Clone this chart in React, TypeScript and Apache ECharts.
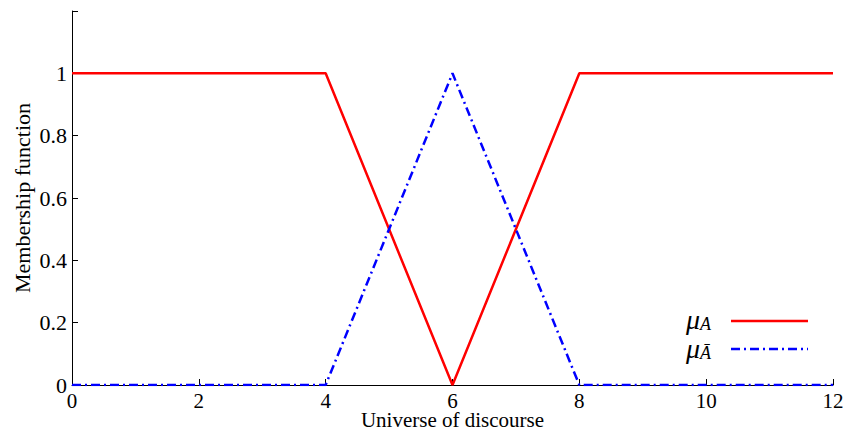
import React, { useEffect, useRef } from "react";
import * as echarts from "echarts";

// Universe of discourse sample points and the two membership functions
const xPoints = [0, 4, 6, 8, 12];
const muA = [1, 1, 0, 1, 1];
const muAComplement = [0, 0, 1, 0, 0];

const FONT = "'Liberation Serif', 'DejaVu Serif', serif";

export default function App() {
  const ref = useRef<HTMLDivElement>(null);

  useEffect(() => {
    if (!ref.current) return;
    const chart = echarts.init(ref.current, undefined, { renderer: "svg" });
    const pair = (ys: number[]) => xPoints.map((x, i) => [x, ys[i]]);
    const legendRich = {
      m: { fontFamily: FONT, fontStyle: "italic", fontSize: 28, fill: "#000", lineHeight: 26 },
      s: { fontFamily: FONT, fontStyle: "italic", fontSize: 18, fill: "#000", lineHeight: 26, padding: [10, 0, 0, 0] },
    };

    chart.setOption({
      animation: false,
      backgroundColor: "#ffffff",
      grid: { left: 72, right: 12, top: 11, bottom: 47, containLabel: false, outerBoundsMode: "none" },
      xAxis: {
        type: "value",
        min: 0,
        max: 12,
        interval: 2,
        name: "Universe of discourse",
        nameLocation: "middle",
        nameGap: 26,
        nameMoveOverlap: false,
        nameTextStyle: { fontFamily: FONT, fontSize: 21, color: "#000", lineHeight: 18 },
        axisLine: { lineStyle: { color: "#000", width: 1 } },
        axisTick: { show: true, inside: true, length: 6, lineStyle: { color: "#000", width: 1 } },
        axisLabel: { fontFamily: FONT, fontSize: 21, color: "#000", margin: 7, lineHeight: 18 },
        splitLine: { show: false },
      },
      yAxis: {
        type: "value",
        min: 0,
        max: 1.2,
        interval: 0.2,
        name: "Membership function",
        nameLocation: "middle",
        nameGap: 39,
        nameMoveOverlap: false,
        nameTextStyle: { fontFamily: FONT, fontSize: 22, color: "#000" },
        axisLine: { show: true, lineStyle: { color: "#000", width: 1 } },
        axisTick: { show: true, inside: true, length: 6, lineStyle: { color: "#000", width: 1 } },
        axisLabel: {
          fontFamily: FONT,
          fontSize: 22,
          color: "#000",
          margin: 5,
          formatter: (v: number) => (v > 1.05 ? "" : String(Math.round(v * 10) / 10)),
        },
        splitLine: { show: false },
      },
      series: [
        {
          type: "line",
          data: pair(muA),
          symbol: "none",
          lineStyle: { color: "#ff0000", width: 2.5 },
          z: 3,
        },
        {
          type: "line",
          data: pair(muAComplement),
          symbol: "none",
          lineStyle: { color: "#0000ff", width: 2.5, type: [9, 4, 2, 4] },
          z: 4,
        },
      ],
      graphic: [
        {
          type: "text",
          left: 686,
          top: 305,
          style: { text: "{m|μ}{s|A}", rich: legendRich },
        },
        {
          type: "line",
          shape: { x1: 731, y1: 321, x2: 808, y2: 321 },
          style: { stroke: "#ff0000", lineWidth: 2.5 },
        },
        {
          type: "text",
          left: 686,
          top: 334,
          style: { text: "{m|μ}{s|A\u0304}", rich: legendRich },
        },
        {
          type: "line",
          shape: { x1: 731, y1: 349, x2: 808, y2: 349 },
          style: { stroke: "#0000ff", lineWidth: 2.5, lineDash: [9, 4, 2, 4] },
        },
      ],
    });

    return () => chart.dispose();
  }, []);

  return (
    <div
      ref={ref}
      style={{ position: "absolute", left: 0, top: 0, width: 845, height: 432 }}
    />
  );
}
